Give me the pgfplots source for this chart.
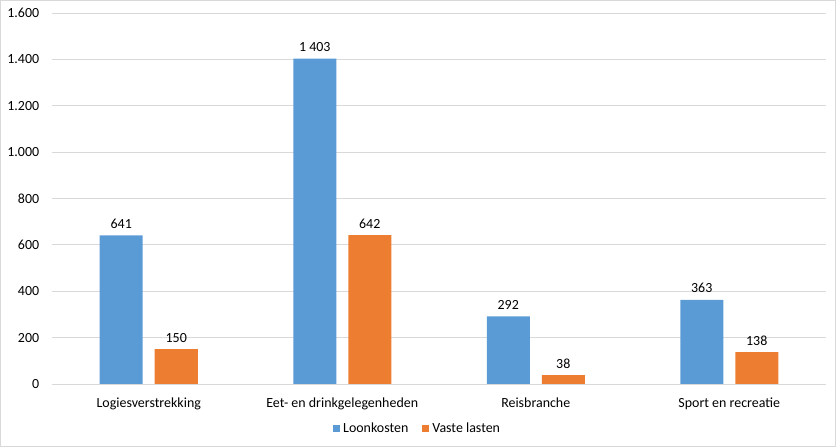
\documentclass[border=0pt]{standalone}
\usepackage{fontspec}
\setmainfont{Carlito}
\usepackage{pgfplots}
\pgfplotsset{compat=1.18}
\definecolor{loon}{HTML}{5B9BD5}
\definecolor{vast}{HTML}{ED7D31}
\definecolor{gridc}{HTML}{D9D9D9}
\begin{document}
\fontsize{14}{16}\selectfont
\begin{tikzpicture}
\begin{axis}[
  scale only axis,
  width=774bp, height=371bp,
  ybar=12bp, bar width=43bp,
  xmin=-0.5, xmax=3.5,
  ymin=0, ymax=1600,
  ytick={0,200,...,1600},
  xtick=data,
  xticklabels={Logiesverstrekking,Eet- en drinkgelegenheden,Reisbranche,Sport en recreatie},
  axis line style={draw=none},
  major tick length=0pt,
  ymajorgrids=true,
  grid style={gridc, line width=0.8bp},
  tick label style={font=\fontsize{14}{16}\selectfont, text=black},
  /pgf/number format/assume math mode=true,
  yticklabel style={/pgf/number format/1000 sep={.}, xshift=-8bp},
  xticklabel style={yshift=-9bp},
  nodes near coords,
  nodes near coords style={font=\fontsize{14}{16}\selectfont, /pgf/number format/1000 sep={\ }, /pgf/number format/assume math mode=true, yshift=2bp},
  legend style={at={(axis description cs:0.473,-0.121)}, anchor=center, draw=none, legend columns=2, font=\fontsize{14}{16}\selectfont, nodes={inner xsep=3.5bp}, /tikz/every even column/.append style={column sep=10bp}},
  legend image code/.code={\fill[#1] (0bp,-3.5bp) rectangle (7bp,3.5bp);},
]
\addplot[fill=loon, draw=none] coordinates {(0,641) (1,1403) (2,292) (3,363)};
\addlegendentry{Loonkosten}
\addplot[fill=vast, draw=none] coordinates {(0,150) (1,642) (2,38) (3,138)};
\addlegendentry{Vaste lasten}
\draw[gridc, line width=0.8bp] (axis cs:-0.5,0) -- (axis cs:3.5,0);
\end{axis}
\draw[gridc, line width=1bp] ([shift={(-51.5bp,-62.5bp)}]current axis.south west) rectangle ([shift={(9.5bp,12.5bp)}]current axis.north east);
\end{tikzpicture}
\end{document}
